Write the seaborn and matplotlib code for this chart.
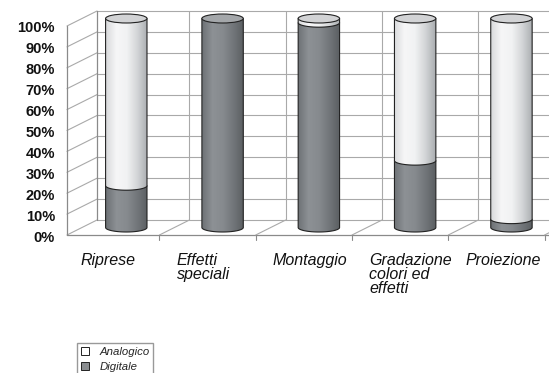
import numpy as np
import pandas as pd
import seaborn as sns
import matplotlib.pyplot as plt
from matplotlib.patches import Polygon, Ellipse, Patch
from matplotlib.colors import LinearSegmentedColormap
from matplotlib.transforms import ScaledTranslation

# dati (percentuali)
categorie = ["Riprese", "Effetti\nspeciali", "Montaggio", "Gradazione\ncolori ed\neffetti", "Proiezione"]
digitale = [20, 100, 98, 32, 4]
analogico = [80, 0, 2, 68, 96]
tick_pct = [0, 10, 20, 30, 40, 50, 60, 70, 80, 90, 100]

sns.set_theme(style="white")
plt.rcParams["font.family"] = ["Liberation Sans", "DejaVu Sans"]

df = pd.DataFrame({"categoria": categorie, "Digitale": digitale, "Analogico": analogico})
df["Totale"] = df["Digitale"] + df["Analogico"]

fig = plt.figure(figsize=(5.49, 3.73), dpi=100)
ax = fig.add_axes([82 / 549, 145.5 / 373, 467 / 549, 209 / 373])

# barre impilate: totale (analogico) sotto, digitale sopra
sns.barplot(data=df, x="categoria", y="Totale", color="#eeeeee", width=0.43, errorbar=None, ax=ax)
sns.barplot(data=df, x="categoria", y="Digitale", color="#7a7e82", width=0.43, errorbar=None, ax=ax)

xl, xr = -0.46, 4.39
ax.set_xlim(xl, xr)
ax.set_ylim(0, 100)
ax.set_xlabel("")
ax.set_ylabel("")
sns.despine(ax=ax, left=True, bottom=True)

# profondita' finta 3D in unita' dati
dx, dy = 0.156, 3.59
eh = 4.3
grid_c = "#a9a9a9"
edge_c = "#8a8a8a"

for t in tick_pct:
    ax.plot([xl + dx, xr + 1], [t + dy, t + dy], color=grid_c, lw=0.8, zorder=0.5, clip_on=False)
    ax.plot([xl - dx, xl + dx], [t - dy, t + dy], color=grid_c, lw=0.8, zorder=0.5, clip_on=False)
ax.plot([xl + dx, xl + dx], [dy, 100 + dy], color=edge_c, lw=0.9, zorder=0.5, clip_on=False)
ax.plot([xl - dx, xl - dx], [-dy, 100 - dy], color=edge_c, lw=0.9, zorder=0.5, clip_on=False)
ax.plot([xl - dx, xr + 1], [-dy, -dy], color=edge_c, lw=0.9, zorder=0.5, clip_on=False)
for b in np.arange(len(categorie)) + 0.5:
    ax.plot([b - dx, b + dx], [-dy, dy], color=grid_c, lw=0.8, zorder=0.5, clip_on=False)
    ax.plot([b + dx, b + dx], [dy, 100 + dy], color=grid_c, lw=0.8, zorder=0.5, clip_on=False)
    ax.plot([b - dx, b - dx], [-dy, -dy - 2.4], color=edge_c, lw=0.8, zorder=0.5, clip_on=False)

cmap_chiaro = LinearSegmentedColormap.from_list(
    "chiaro", ["#d9dadc", "#f6f6f7", "#f1f2f3", "#d3d5d7", "#a9acaf"])
cmap_scuro = LinearSegmentedColormap.from_list(
    "scuro", ["#6d7175", "#8d9195", "#868a8e", "#72767a", "#5a5e61"])
grad = np.linspace(0, 1, 256).reshape(1, -1)


def cilindro(x0, w, y0, y1, cmap, z):
    t = np.linspace(np.pi, 2 * np.pi, 60)
    xc = x0 + w / 2
    pts = [(x0, y1)] + list(zip(xc + w / 2 * np.cos(t), y0 + eh / 2 * np.sin(t))) + [(x0 + w, y1)]
    poly = Polygon(pts, closed=True, facecolor="none", edgecolor="#222222", lw=0.8,
                   zorder=z + 0.1, clip_on=False)
    ax.add_patch(poly)
    im = ax.imshow(grad, cmap=cmap, extent=[x0, x0 + w, y0 - eh / 2, y1], aspect="auto",
                   origin="lower", interpolation="bilinear", zorder=z)
    im.set_clip_box(fig.bbox)
    im.set_clip_path(poly)


n = len(categorie)
tot_bars = ax.patches[:n]
dig_bars = ax.patches[n:2 * n]
for i in range(n):
    pt, pd_ = tot_bars[i], dig_bars[i]
    pt.set_visible(False)
    pd_.set_visible(False)
    x0, w = pd_.get_x(), pd_.get_width()
    d, top = pd_.get_height(), pt.get_height()
    if d > 0:
        cilindro(x0, w, 0, d, cmap_scuro, 2)
    if top - d > 0:
        cilindro(x0, w, d, top, cmap_chiaro, 3)
    faccia = "#d2d3d5" if top - d > 0 else "#a4a7aa"
    ax.add_patch(Ellipse((x0 + w / 2, top), w, eh, facecolor=faccia, edgecolor="#222222",
                         lw=0.8, zorder=4, clip_on=False))

ax.set_xlim(xl, xr)
ax.set_ylim(0, 100)

# etichette asse y sul bordo frontale
ax.set_yticks(tick_pct)
ax.set_yticklabels([f"{t}%" for t in tick_pct], fontsize=10.5, fontweight="bold", color="#111111")
ax.tick_params(axis="y", length=0, pad=19.4)
for lab in ax.get_yticklabels():
    lab.set_transform(lab.get_transform() + ScaledTranslation(0, -8.5 / 100, fig.dpi_scale_trans))

ax.set_xticks(range(n))
ax.set_xticklabels(categorie, fontsize=11.5, fontstyle="italic", color="#111111",
                   ha="left", va="top", linespacing=0.9)
ax.tick_params(axis="x", length=0, pad=18.4)
for lab in ax.get_xticklabels():
    lab.set_transform(lab.get_transform() + ScaledTranslation(-46 / 100, 0, fig.dpi_scale_trans))

ax.grid(False)
ax.set_facecolor("white")

handles = [Patch(facecolor="white", edgecolor="#222222", lw=0.7, label="Analogico"),
           Patch(facecolor="#8a8d90", edgecolor="#222222", lw=0.7, label="Digitale")]
fig.legend(handles=handles, loc="upper left", bbox_to_anchor=(77 / 549, 1 - 343 / 373),
           frameon=True, fancybox=False, edgecolor="#999999", framealpha=1,
           prop={"style": "italic", "size": 8.2}, handlelength=0.7, handleheight=0.7,
           borderpad=0.35, labelspacing=0.4, handletextpad=0.9, borderaxespad=0)

fig.savefig("out.png", dpi=100)
